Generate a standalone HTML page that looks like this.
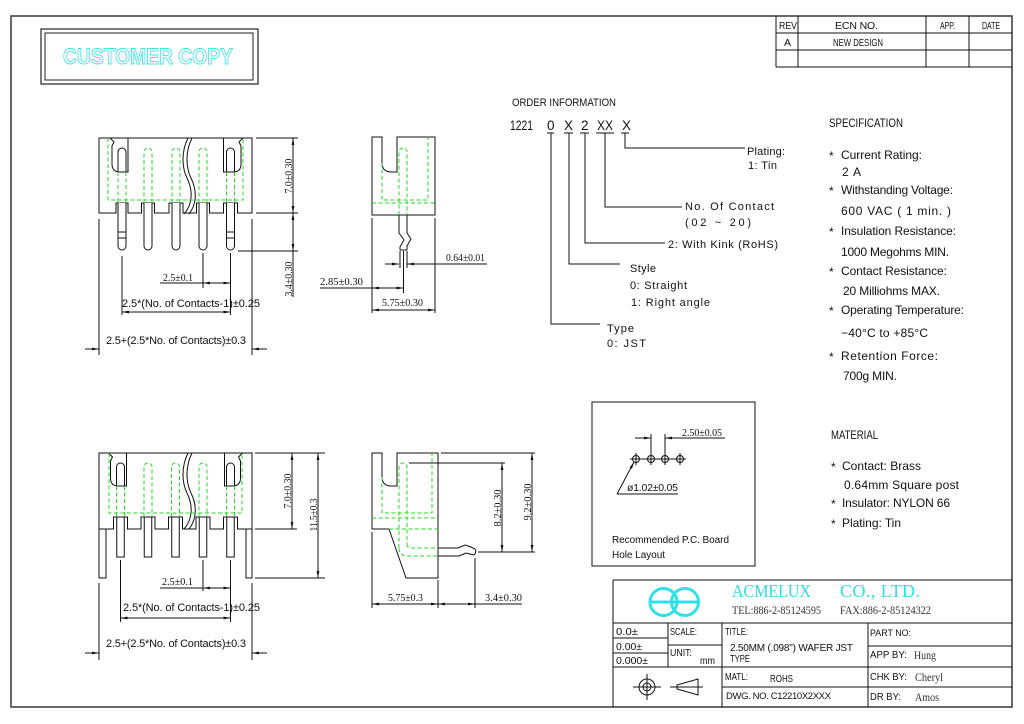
<!DOCTYPE html>
<html><head><meta charset="utf-8"><style>
html,body{margin:0;padding:0;background:#fff;}
svg{display:block;}
.s{font-family:"Liberation Sans",sans-serif;}
.r{font-family:"Liberation Serif",serif;}
</style></head><body>
<svg width="1024" height="724" viewBox="0 0 1024 724" xmlns="http://www.w3.org/2000/svg">
<defs>
<marker id="a" viewBox="0 0 10 4" refX="10" refY="2" markerWidth="7" markerHeight="2.8" markerUnits="userSpaceOnUse" orient="auto-start-reverse"><path d="M0,0 L10,2 L0,4 z" fill="#111"/></marker>
</defs>
<rect width="1024" height="724" fill="#fff"/>

<!-- border -->
<rect x="11" y="16" width="1001" height="691" fill="none" stroke="#444" stroke-width="1.6"/>

<g fill="none" stroke="#111" stroke-width="1">
<!-- revision table -->
<path d="M776,16 V67 M798,16 V67 M926,16 V67 M969,16 V67 M776,33 H1012 M776,50 H1012 M776,67 H1012"/>

<!-- customer copy box -->
<rect x="41" y="29" width="217" height="55" stroke="#333" stroke-width="1.3"/>
<rect x="45" y="33" width="208" height="47" stroke="#333" stroke-width="1.1"/>

<!-- ===== top front view ===== -->
<path d="M99,138 H252 V213 H237.5 V203 H223.5 V213 H209.5 V203 H196.5 V213 H183 V203 H169 V213 H154.5 V203 H141.5 V213 H128 V203 H116 V213 H99 Z" fill="#fff"/>
<path d="M110,138 L114,142 L112,146 V164 Q112,172 120,172 H128 V138"/>
<path d="M243,138 L239,142 L241,146 V164 Q241,172 233,172 H223.5 V138"/>
<path d="M118,172 V152 A4,4 0 0 1 126,152 V172 M226.5,172 V152 A4,4 0 0 1 234.5,152 V172"/>
<path d="M188,138 C181,152 182,168 187,178 C193,190 193,204 184,214 M192,138 C185,152 186,168 191,178 C197,190 197,204 189,214"/>
<g fill="#fff">
<path d="M118,203 V246 A4,4 0 0 0 126,246 V203"/>
<path d="M144,203 V246 A4,4 0 0 0 152,246 V203"/>
<path d="M172,203 V246 A4,4 0 0 0 180,246 V203"/>
<path d="M199,203 V246 A4,4 0 0 0 207,246 V203"/>
<path d="M226.5,203 V246 A4,4 0 0 0 234.5,246 V203"/>
</g>
<path d="M118,232 H126 M118,238 H126 M226.5,232 H234.5 M226.5,238 H234.5"/>
<g stroke="#22dd22" stroke-dasharray="4 2.5">
<path d="M108,138 V200 H243 V138"/>
<path d="M144,203 V152 A4,4 0 0 1 152,152 V203"/>
<path d="M172,203 V152 A4,4 0 0 1 180,152 V203"/>
<path d="M199,203 V152 A4,4 0 0 1 207,152 V203"/>
<path d="M118,172 V203 M126,172 V203 M226.5,172 V203 M234.5,172 V203"/>
</g>
<!-- dims -->
<path d="M256,138 H298 M256,213 H298 M238,251 H298 M293,251 V297"/>
<line x1="293" y1="138" x2="293" y2="213" marker-start="url(#a)" marker-end="url(#a)"/>
<line x1="293" y1="213" x2="293" y2="251" marker-start="url(#a)" marker-end="url(#a)"/>
<path d="M122,256 V315 M203,253 V288 M230.5,253 V315 M160,283 H203 M99,219 V355 M252,219 V355"/>
<line x1="203" y1="283" x2="230.5" y2="283" marker-start="url(#a)" marker-end="url(#a)"/>
<line x1="122" y1="312" x2="230.5" y2="312" marker-start="url(#a)" marker-end="url(#a)"/>
<line x1="85" y1="349" x2="99" y2="349" marker-end="url(#a)"/>
<line x1="267" y1="349" x2="252" y2="349" marker-end="url(#a)"/>

<!-- ===== top side view ===== -->
<path d="M382,137 H372 V215 H435 V137 H397 V172 H390 Q382,171 382,163 Z" fill="#fff"/>
<g stroke="#22dd22" stroke-dasharray="4 2.5">
<path d="M382,163 V200 H428 V137"/>
<path d="M372,203 H435"/>
<path d="M399,215 V152 A4,4 0 0 1 407,152 V215"/>
</g>
<path d="M399,215 V233 L404,240 L400,247 V250 M407,215 V233 L411,239 L407,246 V250 M400,250 H407"/>
<path d="M400,251 V268 M407,251 V268 M403.5,251 V293"/>
<line x1="385" y1="264" x2="399" y2="264" marker-end="url(#a)"/>
<line x1="487" y1="264" x2="407" y2="264" marker-end="url(#a)"/>
<path d="M372,218 V313 M435,218 V313 M320,288 H372"/>
<line x1="372" y1="288" x2="403.5" y2="288" marker-start="url(#a)" marker-end="url(#a)"/>
<line x1="372" y1="310" x2="435" y2="310" marker-start="url(#a)" marker-end="url(#a)"/>

<!-- ===== order info leaders ===== -->
<path d="M547,133 H554 M564,133 H573 M580,133 H589 M596,133 H614 M621,133 H629"/>
<path d="M551,133 V324 H600 M569,133 V264 H620 M585,133 V243 H665 M605,133 V207 H682 M625,133 V148 H745"/>

<!-- ===== PCB box ===== -->
<rect x="592" y="402" width="163" height="164"/>
<path d="M630,459 H686"/>
<circle cx="636" cy="459" r="3.5"/><circle cx="651" cy="459" r="3.5"/><circle cx="665" cy="459" r="3.5"/><circle cx="680" cy="459" r="3.5"/>
<path d="M636,453 V465 M651,453 V465 M665,453 V465 M680,453 V465"/>
<path d="M651,434 V456 M665,434 V456"/>
<line x1="635" y1="438" x2="651" y2="438" marker-end="url(#a)"/>
<line x1="725" y1="438" x2="665" y2="438" marker-end="url(#a)"/>
<line x1="617" y1="494" x2="634" y2="462" marker-end="url(#a)"/>
<path d="M617,494 H678"/>

<!-- ===== title block ===== -->
<path d="M613,580 H1012 M613,580 V707 M613,623 H1012 M668,623 V667 M722,623 V707 M868,623 V707 M613,638 H668 M613,653 H668 M668,645 H722 M613,667 H1012 M868,646 H1012 M722,687 H1012"/>
<circle cx="647" cy="687" r="8"/><circle cx="647" cy="687" r="4"/>
<path d="M633,687 H661 M647,674 V700"/>
<path d="M677,685 L698,679 V695 L677,689 Z M670,687 H703"/>

<!-- ===== bottom front view ===== -->
<path d="M99,578 V453 H252 V578 H246 V529 H237.5 V517 H223.5 V529 H210 V517 H196 V529 H182.5 V517 H168.5 V529 H155 V517 H141 V529 H127.5 V517 H113.5 V529 H106 V578 Z" fill="#fff"/>
<path d="M99,529 H106 M246,529 H252"/>
<path d="M108.5,453 L112.5,457 L110.5,461 V478 Q110.5,486 118.5,486 H126.5 V453"/>
<path d="M242.5,453 L238.5,457 L240.5,461 V478 Q240.5,486 232.5,486 H224.5 V453"/>
<path d="M116.5,486 V467 A4,4 0 0 1 124.5,467 V486 M226.5,486 V467 A4,4 0 0 1 234.5,467 V486"/>
<path d="M188,453 C181,467 182,483 187,493 C193,505 193,519 184,529 M192,453 C185,467 186,483 191,493 C197,505 197,519 189,529"/>
<g fill="#fff">
<rect x="116.75" y="517" width="7.5" height="40"/>
<rect x="144.25" y="517" width="7.5" height="40"/>
<rect x="171.75" y="517" width="7.5" height="40"/>
<rect x="199.25" y="517" width="7.5" height="40"/>
<rect x="226.75" y="517" width="7.5" height="40"/>
</g>
<g stroke="#22dd22" stroke-dasharray="4 2.5">
<path d="M109,453 V513 H242 V453"/>
<path d="M144,517 V467 A4,4 0 0 1 152,467 V517"/>
<path d="M171.5,517 V467 A4,4 0 0 1 179.5,467 V517"/>
<path d="M199,517 V467 A4,4 0 0 1 207,467 V517"/>
<path d="M116.5,486 V517 M124.5,486 V517 M226.5,486 V517 M234.5,486 V517"/>
</g>
<path d="M255,453 H325 M255,529 H297 M255,578 H325"/>
<line x1="292" y1="453" x2="292" y2="529" marker-start="url(#a)" marker-end="url(#a)"/>
<line x1="318" y1="453" x2="318" y2="578" marker-start="url(#a)" marker-end="url(#a)"/>
<path d="M203,560 V591 M230.5,560 V622 M120.5,560 V622 M160,588 H203 M99,583 V660 M252,583 V660"/>
<line x1="203" y1="588" x2="230.5" y2="588" marker-start="url(#a)" marker-end="url(#a)"/>
<line x1="120.5" y1="618" x2="230.5" y2="618" marker-start="url(#a)" marker-end="url(#a)"/>
<line x1="85" y1="653" x2="99" y2="653" marker-end="url(#a)"/>
<line x1="267" y1="653" x2="252" y2="653" marker-end="url(#a)"/>

<!-- ===== bottom side view ===== -->
<path d="M382,453 H372 V529 H389 L406,578 H438 V453 H397 V486 H390 Q382,485 382,477 Z" fill="#fff"/>
<g stroke="#22dd22" stroke-dasharray="4 2.5">
<path d="M382,477 V513 H432 V453"/>
<path d="M372,518 H438 M389,529 H438"/>
<path d="M399,548 V467 A4,4 0 0 1 407,467 V544"/>
<path d="M399,548 Q399,556 407,556 H438 M407,544 Q407,548 411,548 H438"/>
</g>
<path d="M438,548 H458 L465,545 L471,547 L475,549 Q477,552 474,555 M438,556 H459 L466,553 L474,555"/>
<path d="M409,463 H505 M441,453 H535 M478,552 H535"/>
<line x1="502" y1="463" x2="502" y2="552" marker-start="url(#a)" marker-end="url(#a)"/>
<line x1="532" y1="453" x2="532" y2="552" marker-start="url(#a)" marker-end="url(#a)"/>
<path d="M372,532 V608 M438,580 V608 M475,558 V608 M475,604 H522"/>
<line x1="372" y1="604" x2="438" y2="604" marker-start="url(#a)" marker-end="url(#a)"/>
<line x1="438" y1="604" x2="475" y2="604" marker-start="url(#a)" marker-end="url(#a)"/>
</g>

<!-- logo -->
<g fill="none" stroke="#30e0e6" stroke-width="3">
<circle cx="663.5" cy="602" r="13.5"/>
<circle cx="685" cy="602" r="13.5"/>
<path d="M649,602 H699"/>
</g>

<!-- ===== TEXT ===== -->
<text x="63" y="64" class="s" font-size="22" font-weight="bold" fill="#fff" stroke="#3ee6e6" stroke-width="0.9" textLength="170" lengthAdjust="spacingAndGlyphs">CUSTOMER COPY</text>

<g class="s" font-size="10.5" fill="#111">
<text x="779" y="29" textLength="18" lengthAdjust="spacingAndGlyphs">REV</text>
<text x="835" y="29" textLength="43" lengthAdjust="spacing">ECN NO.</text>
<text x="940" y="29" textLength="15" lengthAdjust="spacingAndGlyphs">APP.</text>
<text x="982" y="29" textLength="18" lengthAdjust="spacingAndGlyphs">DATE</text>
<text x="784" y="46">A</text>
<text x="833" y="46" textLength="50" lengthAdjust="spacingAndGlyphs">NEW DESIGN</text>
</g>

<!-- dims serif -->
<g class="r" font-size="11" fill="#111">
<text transform="translate(292,176) rotate(-90)" text-anchor="middle" textLength="35" lengthAdjust="spacingAndGlyphs">7.0±0.30</text>
<text transform="translate(292,279) rotate(-90)" text-anchor="middle" textLength="35" lengthAdjust="spacingAndGlyphs">3.4±0.30</text>
<text x="163" y="281" textLength="30" lengthAdjust="spacingAndGlyphs">2.5±0.1</text>
<text x="446" y="261" textLength="39" lengthAdjust="spacingAndGlyphs">0.64±0.01</text>
<text x="320" y="285" textLength="43" lengthAdjust="spacingAndGlyphs">2.85±0.30</text>
<text x="382" y="306" textLength="41" lengthAdjust="spacingAndGlyphs">5.75±0.30</text>
<text transform="translate(291,491) rotate(-90)" text-anchor="middle" textLength="35" lengthAdjust="spacingAndGlyphs">7.0±0.30</text>
<text transform="translate(317,515) rotate(-90)" text-anchor="middle" textLength="33" lengthAdjust="spacingAndGlyphs">11.5±0.3</text>
<text x="162" y="585" textLength="31" lengthAdjust="spacingAndGlyphs">2.5±0.1</text>
<text transform="translate(501,508) rotate(-90)" text-anchor="middle" textLength="37" lengthAdjust="spacingAndGlyphs">8.2±0.30</text>
<text transform="translate(531,502) rotate(-90)" text-anchor="middle" textLength="37" lengthAdjust="spacingAndGlyphs">9.2±0.30</text>
<text x="388" y="601" textLength="35" lengthAdjust="spacingAndGlyphs">5.75±0.3</text>
<text x="485" y="601" textLength="37" lengthAdjust="spacingAndGlyphs">3.4±0.30</text>
<text x="682" y="436" textLength="40" lengthAdjust="spacingAndGlyphs">2.50±0.05</text>
</g>

<g class="s" font-size="11" fill="#111">
<text x="122" y="307" textLength="138" lengthAdjust="spacing">2.5*(No. of Contacts-1)±0.25</text>
<text x="106" y="344" textLength="140" lengthAdjust="spacing">2.5+(2.5*No. of Contacts)±0.3</text>
<text x="123" y="611" textLength="137" lengthAdjust="spacing">2.5*(No. of Contacts-1)±0.25</text>
<text x="106" y="647" textLength="140" lengthAdjust="spacing">2.5+(2.5*No. of Contacts)±0.3</text>

<text x="512" y="106" textLength="104" lengthAdjust="spacingAndGlyphs">ORDER INFORMATION</text>
<text x="747" y="155" textLength="38" lengthAdjust="spacing">Plating:</text>
<text x="748" y="169" textLength="29" lengthAdjust="spacing">1: Tin</text>
<text x="685" y="210" textLength="89" lengthAdjust="spacing">No. Of Contact</text>
<text x="685" y="226" textLength="66" lengthAdjust="spacing">(02 ~ 20)</text>
<text x="668" y="248" textLength="110" lengthAdjust="spacing">2: With Kink (RoHS)</text>
<text x="630" y="272" textLength="26" lengthAdjust="spacing">Style</text>
<text x="630" y="289" textLength="57" lengthAdjust="spacing">0: Straight</text>
<text x="631" y="306" textLength="79" lengthAdjust="spacing">1: Right angle</text>
<text x="607" y="332" textLength="27" lengthAdjust="spacing">Type</text>
<text x="607" y="347" textLength="39" lengthAdjust="spacing">0: JST</text>

<text x="627" y="491" font-size="10.5" textLength="51" lengthAdjust="spacing">ø1.02±0.05</text>
<text x="612" y="543" font-size="10" textLength="117" lengthAdjust="spacing">Recommended P.C. Board</text>
<text x="612" y="558" font-size="10" textLength="53" lengthAdjust="spacing">Hole Layout</text>
</g>

<g class="s" font-size="13.5" fill="#111">
<text x="510" y="130" textLength="23" lengthAdjust="spacingAndGlyphs">1221</text>
<text x="547" y="130">0</text>
<text x="564" y="130">X</text>
<text x="581" y="130">2</text>
<text x="597" y="130" textLength="16" lengthAdjust="spacingAndGlyphs">XX</text>
<text x="622" y="130">X</text>
</g>

<g class="s" font-size="12" fill="#111">
<text x="829" y="127" textLength="74" lengthAdjust="spacingAndGlyphs">SPECIFICATION</text>
<text x="829" y="160">*</text><text x="841" y="159" textLength="81" lengthAdjust="spacing">Current Rating:</text>
<text x="842" y="176" textLength="19" lengthAdjust="spacing">2 A</text>
<text x="829" y="195">*</text><text x="841" y="194" textLength="112" lengthAdjust="spacing">Withstanding Voltage:</text>
<text x="841" y="215" textLength="110" lengthAdjust="spacing">600 VAC ( 1 min. )</text>
<text x="829" y="236">*</text><text x="841" y="235" textLength="115" lengthAdjust="spacing">Insulation Resistance:</text>
<text x="841" y="256" textLength="108" lengthAdjust="spacing">1000 Megohms MIN.</text>
<text x="829" y="276">*</text><text x="841" y="275" textLength="106" lengthAdjust="spacing">Contact Resistance:</text>
<text x="843" y="295" textLength="97" lengthAdjust="spacing">20 Milliohms MAX.</text>
<text x="829" y="315">*</text><text x="841" y="314" textLength="123" lengthAdjust="spacing">Operating Temperature:</text>
<text x="841" y="337" textLength="87" lengthAdjust="spacing">−40°C to +85°C</text>
<text x="829" y="361">*</text><text x="841" y="360" textLength="97" lengthAdjust="spacing">Retention Force:</text>
<text x="843" y="380" textLength="54" lengthAdjust="spacing">700g MIN.</text>

<text x="831" y="439" textLength="47" lengthAdjust="spacingAndGlyphs">MATERIAL</text>
<text x="831" y="471">*</text><text x="842" y="470" textLength="79" lengthAdjust="spacing">Contact: Brass</text>
<text x="844" y="489" textLength="115" lengthAdjust="spacing">0.64mm Square post</text>
<text x="831" y="508">*</text><text x="842" y="507" textLength="108" lengthAdjust="spacing">Insulator: NYLON 66</text>
<text x="831" y="528">*</text><text x="842" y="527" textLength="59" lengthAdjust="spacing">Plating: Tin</text>
</g>

<!-- title block text -->
<g class="r" fill="#2fdde6">
<text x="732" y="597" font-size="18" textLength="79" lengthAdjust="spacingAndGlyphs">ACMELUX</text>
<text x="840" y="597" font-size="18" textLength="80" lengthAdjust="spacing">CO.,   LTD.</text>
</g>
<g class="r" fill="#333" font-size="12">
<text x="732" y="614" textLength="89" lengthAdjust="spacingAndGlyphs">TEL:886-2-85124595</text>
<text x="840" y="614" textLength="91" lengthAdjust="spacingAndGlyphs">FAX:886-2-85124322</text>
<text x="914" y="659" textLength="22" lengthAdjust="spacingAndGlyphs">Hung</text>
<text x="915" y="681" textLength="28" lengthAdjust="spacingAndGlyphs">Cheryl</text>
<text x="915" y="701" textLength="24" lengthAdjust="spacingAndGlyphs">Amos</text>
</g>
<g class="s" fill="#111" font-size="10.5">
<text x="616" y="635" textLength="22" lengthAdjust="spacingAndGlyphs">0.0±</text>
<text x="616" y="650" textLength="26" lengthAdjust="spacingAndGlyphs">0.00±</text>
<text x="616" y="664" textLength="32" lengthAdjust="spacingAndGlyphs">0.000±</text>
<text x="670" y="635" textLength="27" lengthAdjust="spacingAndGlyphs">SCALE:</text>
<text x="670" y="656" textLength="22" lengthAdjust="spacingAndGlyphs">UNIT:</text>
<text x="700" y="664" textLength="15" lengthAdjust="spacingAndGlyphs">mm</text>
<text x="725" y="635" textLength="23" lengthAdjust="spacingAndGlyphs">TITLE:</text>
<text x="730" y="651" font-size="10" textLength="123" lengthAdjust="spacing">2.50MM (.098") WAFER JST</text>
<text x="730" y="662" textLength="20" lengthAdjust="spacingAndGlyphs">TYPE</text>
<text x="725" y="680" textLength="23" lengthAdjust="spacingAndGlyphs">MATL:</text>
<text x="770" y="682" textLength="23" lengthAdjust="spacingAndGlyphs">ROHS</text>
<text x="726" y="699" font-size="9.5" textLength="105" lengthAdjust="spacing">DWG. NO. C12210X2XXX</text>
<text x="870" y="636" font-size="9.5" textLength="41" lengthAdjust="spacingAndGlyphs">PART NO:</text>
<text x="870" y="658" font-size="10" textLength="37" lengthAdjust="spacingAndGlyphs">APP BY:</text>
<text x="870" y="680" font-size="10" textLength="37" lengthAdjust="spacingAndGlyphs">CHK BY:</text>
<text x="870" y="700" font-size="10" textLength="31" lengthAdjust="spacingAndGlyphs">DR BY:</text>
</g>
</svg>
</body></html>
